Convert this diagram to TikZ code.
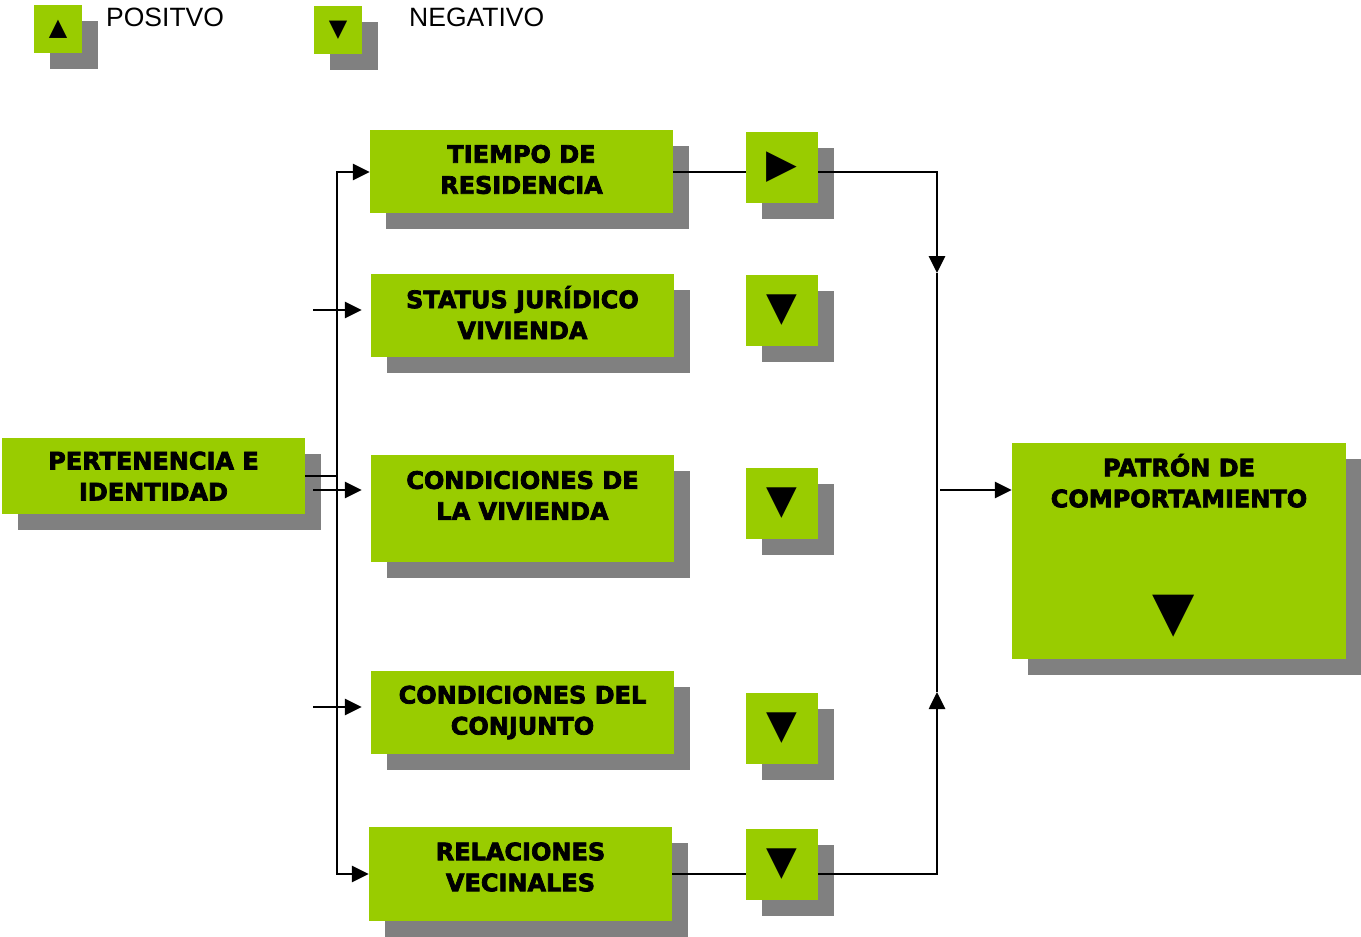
\documentclass[tikz,border=0pt]{standalone}
\usepackage{fontspec}
\usepackage{xcolor}
\usepackage{tikz}
\usetikzlibrary{arrows.meta, shadows}
\newfontfamily\cajafont{DejaVu Sans}[BoldFeatures={FakeBold=3}]
\newfontfamily\leyfont{Liberation Sans}
\definecolor{verdeca}{RGB}{153, 204, 0}
\definecolor{sombra}{RGB}{128, 128, 128}

\begin{document}
\begin{tikzpicture}[
    x=1pt, y=-1pt,
    caja/.style={fill=verdeca, inner sep=0pt, align=center,
                 font=\cajafont\bfseries\fontsize{24}{31}\selectfont,
                 drop shadow={shadow xshift=16pt, shadow yshift=-16pt,
                              fill=sombra, opacity=1}},
    texto/.style={inner sep=0pt, align=center,
                  font=\cajafont\bfseries\fontsize{24}{31}\selectfont},
    signo/.style={caja, minimum width=72pt, minimum height=71pt,
                  font=\cajafont\fontsize{40}{40}\selectfont},
    leyenda/.style={inner sep=0pt, anchor=west,
                    font=\leyfont\fontsize{26.5}{30}\selectfont},
    linea/.style={line width=2.7pt},
    flecha/.style={line width=2.7pt, -{Triangle[length=17pt, width=16pt]}},
  ]
    \useasboundingbox (0,0) rectangle (1361,937);

    \node[caja, minimum width=48pt, minimum height=48pt,
          font=\cajafont\fontsize{24}{24}\selectfont] (lpos) at (58,29) {▲};
    \node[leyenda] (lpostxt) at (106,17.5) {POSITVO};
    \node[caja, minimum width=48pt, minimum height=48pt,
          font=\cajafont\fontsize{24}{24}\selectfont] (lneg) at (338,30) {▼};
    \node[leyenda] (lnegtxt) at (409,17.5) {NEGATIVO};

    \node[caja, minimum width=303pt, minimum height=76pt] (pertenencia)
      at (153.5,476) {PERTENENCIA E\\IDENTIDAD};
    \node[caja, minimum width=303pt, minimum height=83pt] (tiempo)
      at (521.5,171.5) {};
    \node[texto] (tiempotxt) at ([yshift=2pt]tiempo) {TIEMPO DE\\RESIDENCIA};
    \node[caja, minimum width=303pt, minimum height=83pt] (status)
      at (522.5,315.5) {};
    \node[texto] (statustxt) at ([yshift=3pt]status)
      {STATUS JURÍDICO\\VIVIENDA};
    \node[caja, minimum width=303pt, minimum height=107pt] (vivienda)
      at (522.5,508.5) {};
    \node[texto, anchor=north] (viviendatxt) at ([yshift=-16pt]vivienda.north)
      {CONDICIONES DE\\LA VIVIENDA};
    \node[caja, minimum width=303pt, minimum height=83pt] (conjunto)
      at (522.5,712.5) {CONDICIONES DEL\\CONJUNTO};
    \node[caja, minimum width=303pt, minimum height=94pt] (relaciones)
      at (520.5,874) {};
    \node[texto] (relacionestxt) at ([yshift=7pt]relaciones)
      {RELACIONES\\VECINALES};
    \node[caja, minimum width=334pt, minimum height=216pt] (patron)
      at (1179,551) {};
    \node[texto, anchor=north] (patrontxt) at ([yshift=-11pt]patron.north)
      {PATRÓN DE\\COMPORTAMIENTO};
    \node[inner sep=0pt, font=\cajafont\fontsize{55}{55}\selectfont]
      (patronsig) at (1174,616) {▼};

    \node[signo] (s1) at (782,167) {▶};
    \node[signo] (s2) at (782,310) {▼};
    \node[signo] (s3) at (782,503) {▼};
    \node[signo] (s4) at (782,728.5) {▼};
    \node[signo] (s5) at (782,864.5) {▼};

    \coordinate (bus) at (337,476);
    \coordinate (e2) at (313,310);
    \coordinate (e3) at (313,490);
    \coordinate (e4) at (313,707);
    \coordinate (t1) at (673,172);
    \coordinate (t5) at (672,874);
    \coordinate (baja) at (937,273);
    \coordinate (sube) at (937,692);
    \coordinate (salida) at (940,490);

    \draw[linea] (pertenencia.east) -- (bus);
    \draw[flecha] (bus) |- (t1 -| tiempo.west);
    \draw[flecha] (bus) |- (relaciones.west);
    \draw[flecha, shorten >=9pt] (e2) -- (e2 -| status.west);
    \draw[flecha, shorten >=9pt] (e3) -- (e3 -| vivienda.west);
    \draw[flecha, shorten >=9pt] (e4) -- (e4 -| conjunto.west);

    \draw[linea] (t1) -- (t1 -| s1.west);
    \draw[flecha] (t1 -| s1.east) -| (baja);
    \draw[linea] (baja) -- (sube);
    \draw[linea] (t5) -- (t5 -| s5.west);
    \draw[flecha] (t5 -| s5.east) -| (sube);
    \draw[flecha] (salida) -- (salida -| patron.west);
  \end{tikzpicture}
\end{document}
